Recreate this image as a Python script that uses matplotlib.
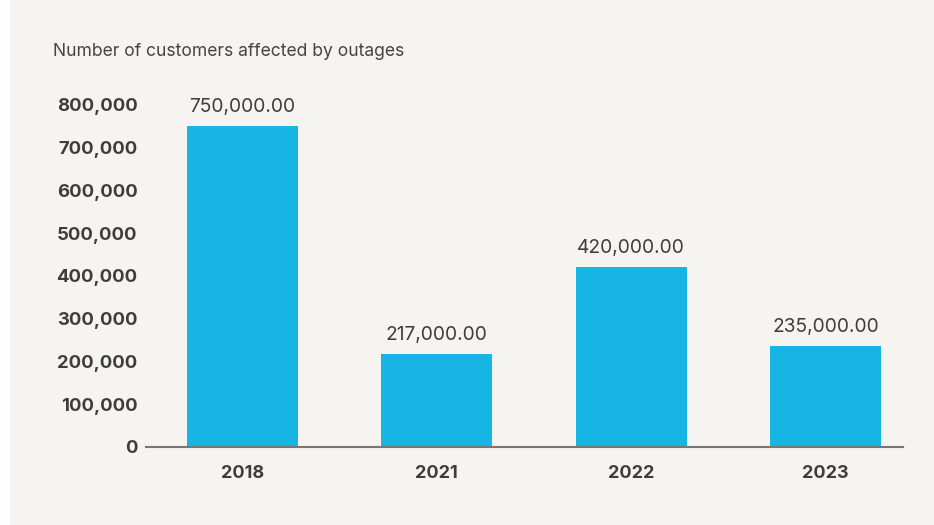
import matplotlib
matplotlib.use("Agg")
import matplotlib.pyplot as plt
from matplotlib.patches import Rectangle
from matplotlib.ticker import FuncFormatter

years = ["2018", "2021", "2022", "2023"]
customers = [750000, 217000, 420000, 235000]
yticks = [0, 100000, 200000, 300000, 400000, 500000, 600000, 700000, 800000]

bg = "#f5f4f1"
txt = "#3d3d3d"
plt.rcParams['font.family'] = ['Inter', 'DejaVu Sans']

fig = plt.figure(figsize=(9.34, 5.25), dpi=100)
fig.patch.set_facecolor("white")
fig.patches.append(Rectangle((10 / 934, 0), 1, 1, transform=fig.transFigure,
                             facecolor=bg, edgecolor="none", zorder=-10))

ax = fig.add_axes([0.1563, 0.1491, 0.8105, 0.651])
ax.patch.set_visible(False)

x = range(len(years))
bars = ax.bar(x, customers, width=0.571, color="#17b5e3", zorder=2)
for b, v in zip(bars, customers):
    ax.text(b.get_x() + b.get_width() / 2, v + 24000, f"{v:,.2f}",
            ha="center", va="bottom", fontsize=13.8, color=txt)

ax.set_xlim(-0.497, 3.399)
ax.set_ylim(0, 800000)
ax.set_xticks(list(x))
ax.set_xticklabels(years, fontsize=13, fontweight="bold", color=txt)
ax.set_yticks(yticks)
ax.yaxis.set_major_formatter(FuncFormatter(lambda v, p: f"{int(v):,}"))
for lab in ax.get_yticklabels():
    lab.set_fontsize(13.3)
    lab.set_fontweight("bold")
    lab.set_color(txt)
ax.tick_params(axis="both", length=0)
ax.tick_params(axis="y", pad=6)
ax.tick_params(axis="x", pad=13)
for s in ["top", "right", "left"]:
    ax.spines[s].set_visible(False)
ax.spines["bottom"].set_color("#777777")
ax.spines["bottom"].set_linewidth(1.5)

fig.text(53 / 934, 1 - 52 / 525, "Number of customers affected by outages",
         fontsize=12.6, color="#444444", va="center", ha="left")

fig.savefig("out.png", dpi=100)
